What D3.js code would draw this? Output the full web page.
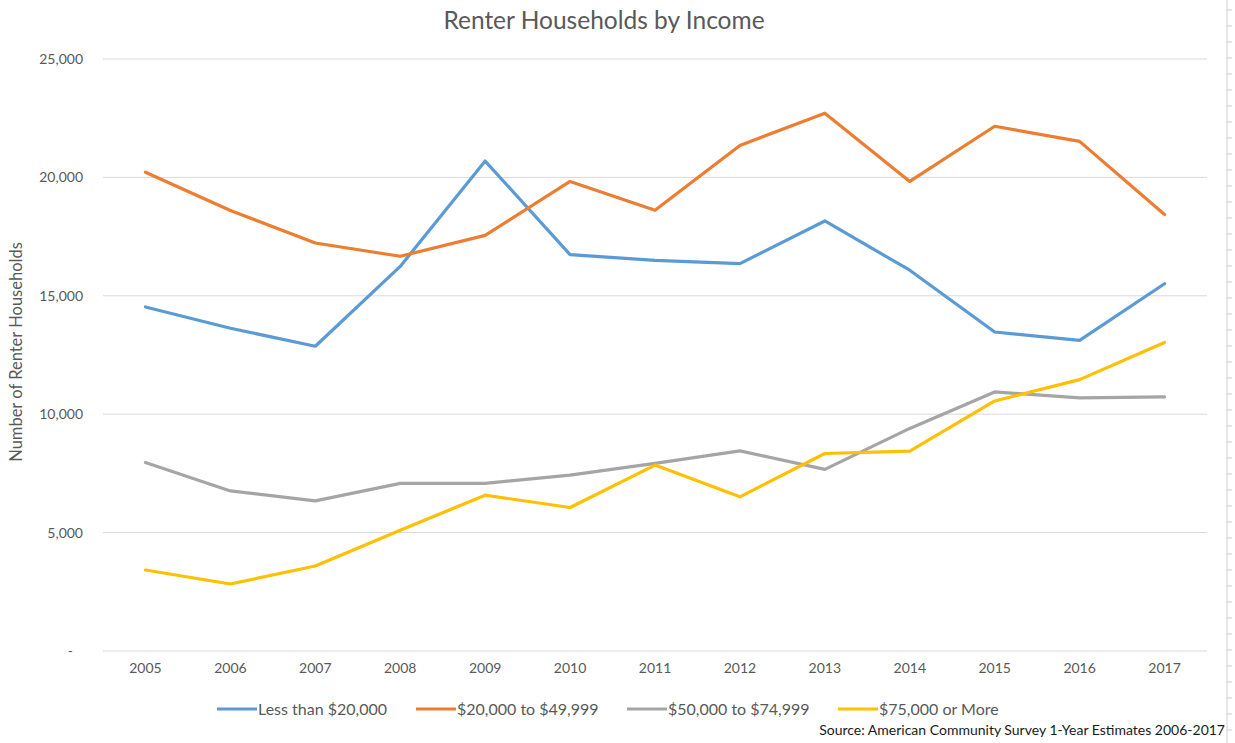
<!DOCTYPE html>
<html>
<head>
<meta charset="utf-8">
<script src="https://cdn.jsdelivr.net/npm/d3@7"></script>
<style>
  html, body { margin: 0; padding: 0; background: #fff; }
  svg { display: block; font-family: Lato, "Open Sans", sans-serif; }
</style>
</head>
<body>
<svg id="chart" width="1235" height="743"></svg>
<script>
// Renter households by income bracket, ACS 1-year estimates
const years = ["2005","2006","2007","2008","2009","2010","2011","2012","2013","2014","2015","2016","2017"];
const seriesNames = ["Less than $20,000", "$20,000 to $49,999", "$50,000 to $74,999", "$75,000 or More"];
const lessThan20k  = [14530, 13630, 12870, 16240, 20690, 16740, 16500, 16360, 18160, 16080, 13470, 13120, 15510];
const from20to50k  = [20220, 18600, 17230, 16670, 17550, 19830, 18610, 21350, 22710, 19830, 22160, 21520, 18430];
const from50to75k  = [7960, 6760, 6340, 7080, 7080, 7430, 7920, 8450, 7670, 9400, 10940, 10690, 10730];
const over75k      = [3420, 2830, 3590, 5100, 6580, 6060, 7850, 6510, 8340, 8440, 10560, 11460, 13030];
const yTicks = [0, 5000, 10000, 15000, 20000, 25000];
const colors = ["#5B9BD5", "#ED7D31", "#A5A5A5", "#FFC000"];

const allSeries = [lessThan20k, from20to50k, from50to75k, over75k];

const svg = d3.select("#chart");
const plot = { left: 103, right: 1207, top: 59, bottom: 651 };

const x = d3.scaleBand().domain(years).range([plot.left, plot.right]);
const y = d3.scaleLinear().domain([0, 25000]).range([plot.bottom, plot.top]);

// Title
svg.append("text")
  .attr("x", 604).attr("y", 29)
  .attr("text-anchor", "middle")
  .attr("font-size", 24.5)
  .attr("fill", "#595959")
  .text("Renter Households by Income");

// Horizontal gridlines
svg.append("g")
  .selectAll("line")
  .data(yTicks)
  .join("line")
  .attr("x1", plot.left).attr("x2", plot.right)
  .attr("y1", d => y(d)).attr("y2", d => y(d))
  .attr("stroke", "#d9d9d9")
  .attr("stroke-width", 1);

// Y axis labels
const yAxis = d3.axisLeft(y)
  .tickValues(yTicks)
  .tickSize(0)
  .tickPadding(0)
  .tickFormat(d => d === 0 ? "-" : d3.format(",")(d));
const gy = svg.append("g")
  .attr("transform", `translate(${plot.left - 20},0)`)
  .call(yAxis);
gy.select(".domain").remove();
gy.selectAll("text")
  .attr("font-family", "Lato, sans-serif")
  .attr("font-size", 14)
  .attr("fill", "#595959");
gy.selectAll(".tick")
  .filter(d => d === 0)
  .select("text")
  .attr("dx", -10);

// X axis labels
const xAxis = d3.axisBottom(x).tickSize(0).tickPadding(12);
const gx = svg.append("g")
  .attr("transform", `translate(0,${plot.bottom})`)
  .call(xAxis);
gx.select(".domain").remove();
gx.selectAll("text")
  .attr("font-family", "Lato, sans-serif")
  .attr("font-size", 14)
  .attr("fill", "#595959");

// Y axis title
svg.append("text")
  .attr("transform", "translate(22,352) rotate(-90)")
  .attr("text-anchor", "middle")
  .attr("font-size", 16.5)
  .attr("fill", "#595959")
  .text("Number of Renter Households");

// Series lines
const line = d3.line()
  .x((d, i) => x(years[i]) + x.bandwidth() / 2)
  .y(d => y(d));

svg.append("g")
  .selectAll("path")
  .data(allSeries)
  .join("path")
  .attr("d", d => line(d))
  .attr("fill", "none")
  .attr("stroke", (d, i) => colors[i])
  .attr("stroke-width", 3.2)
  .attr("stroke-linejoin", "round")
  .attr("stroke-linecap", "round");

// Legend
const legendX = [217, 416, 627, 838];
const legend = svg.append("g")
  .selectAll("g")
  .data(seriesNames)
  .join("g")
  .attr("transform", (d, i) => `translate(${legendX[i]},709)`);
legend.append("line")
  .attr("x1", 0).attr("x2", 40)
  .attr("y1", 0).attr("y2", 0)
  .attr("stroke", (d, i) => colors[i])
  .attr("stroke-width", 3.2);
legend.append("text")
  .attr("x", 41).attr("y", 5.5)
  .attr("font-size", 16)
  .attr("fill", "#595959")
  .text(d => d);

// Source note
svg.append("text")
  .attr("x", 1225).attr("y", 735)
  .attr("text-anchor", "end")
  .attr("font-size", 14)
  .attr("fill", "#1a1a1a")
  .text("Source: American Community Survey 1-Year Estimates 2006-2017");

// Ruler along the right edge
const rulerX = 1227;
svg.append("line")
  .attr("x1", rulerX).attr("x2", rulerX)
  .attr("y1", 0).attr("y2", 743)
  .attr("stroke", "#cfcfcf")
  .attr("stroke-width", 1);
svg.append("g")
  .selectAll("line")
  .data(d3.range(10, 743, 16))
  .join("line")
  .attr("x1", rulerX).attr("x2", rulerX + 5)
  .attr("y1", d => d).attr("y2", d => d)
  .attr("stroke", "#cfcfcf")
  .attr("stroke-width", 1);
</script>
</body>
</html>
